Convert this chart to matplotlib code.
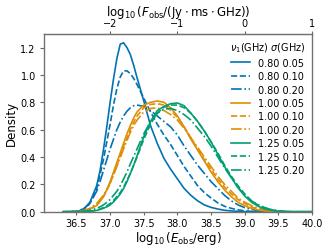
import matplotlib
matplotlib.use("Agg")
import matplotlib.pyplot as plt

# energy grid (log10 E_obs / erg), finer around the blue peaks
e_grid = [36.3, 36.4, 36.5, 36.6, 36.7, 36.8,
          36.85, 36.9, 36.95, 37.0, 37.05, 37.1, 37.15, 37.2, 37.25, 37.3, 37.35, 37.4,
          37.5, 37.6, 37.7, 37.8, 37.9, 38.0, 38.1, 38.2, 38.3, 38.4,
          38.5, 38.6, 38.7, 38.8, 38.9, 39.0, 39.1, 39.2, 39.3, 39.4,
          39.5, 39.6, 39.7, 39.8, 39.9, 40.0]

nu1 = ["0.80", "1.00", "1.25"]
sigma = ["0.05", "0.10", "0.20"]

# density curves
b05 = [0, 0, .002, .015, .07, .19,
       .30, .45, .62, .80, .97, 1.12, 1.225, 1.235, 1.20, 1.15, 1.07, .98,
       .81, .63, .50, .39, .31, .24, .17, .12, .08, .05,
       .032, .02, .011, .006, .003, .001, 0, 0, 0, 0,
       0, 0, 0, 0, 0, 0]
b10 = [0, 0, .003, .015, .06, .17,
       .27, .38, .51, .64, .78, .90, .985, 1.03, 1.03, 1.01, .975, .93,
       .83, .73, .64, .56, .49, .41, .33, .26, .19, .14,
       .10, .065, .04, .025, .014, .007, .003, .001, 0, 0,
       0, 0, 0, 0, 0, 0]
b20 = [0, .001, .005, .02, .06, .15,
       .22, .30, .38, .46, .53, .60, .655, .70, .735, .76, .775, .78,
       .77, .74, .70, .66, .62, .56, .48, .41, .34, .28,
       .22, .17, .12, .08, .05, .03, .017, .008, .003, .001,
       0, 0, 0, 0, 0, 0]
o05 = [0, 0, .001, .005, .02, .045,
       .075, .11, .16, .22, .29, .36, .43, .50, .57, .63, .685, .73,
       .78, .80, .81, .80, .76, .70, .62, .53, .45, .37,
       .29, .22, .16, .11, .07, .043, .025, .013, .006, .002,
       .001, 0, 0, 0, 0, 0]
o10 = [0, 0, .002, .006, .02, .05,
       .08, .11, .155, .21, .27, .34, .41, .48, .54, .60, .655, .70,
       .76, .785, .79, .78, .74, .69, .62, .54, .46, .38,
       .31, .24, .18, .13, .09, .06, .035, .02, .01, .004,
       .001, 0, 0, 0, 0, 0]
o20 = [0, .001, .003, .008, .025, .06,
       .09, .12, .16, .21, .27, .33, .395, .46, .52, .58, .63, .67,
       .73, .755, .76, .74, .71, .67, .61, .54, .47, .40,
       .33, .26, .20, .15, .10, .07, .045, .027, .015, .007,
       .003, .001, 0, 0, 0, 0]
g05 = [0, 0, 0, .001, .003, .01,
       .017, .025, .036, .05, .072, .10, .13, .17, .22, .28, .34, .41,
       .55, .66, .74, .77, .79, .795, .775, .72, .66, .59,
       .51, .42, .33, .25, .175, .115, .07, .04, .02, .01,
       .004, .001, 0, 0, 0, 0]
g10 = [0, 0, .001, .002, .004, .012,
       .02, .03, .043, .06, .083, .11, .14, .18, .23, .28, .34, .40,
       .53, .64, .72, .765, .78, .78, .76, .72, .66, .59,
       .51, .43, .34, .26, .19, .13, .08, .048, .027, .014,
       .006, .002, 0, 0, 0, 0]
g20 = [0, 0, .001, .003, .01, .025,
       .036, .05, .068, .09, .12, .15, .19, .24, .29, .35, .405, .46,
       .57, .66, .72, .75, .755, .74, .71, .67, .61, .55,
       .48, .40, .32, .25, .18, .12, .08, .05, .03, .015,
       .006, .002, 0, 0, 0, 0]

curves = [[b05, b10, b20], [o05, o10, o20], [g05, g10, g20]]
colors = ["#0173b2", "#de8f05", "#029e73"]
styles = ["-", "--", "-."]
offset = 39.0  # log10 E -> log10 F shift for the top axis

fig = plt.figure(figsize=(3.32, 2.53), dpi=100)
ax = fig.add_axes([0.133, 0.159, 0.807, 0.703])

for i, nu in enumerate(nu1):
    for j, s in enumerate(sigma):
        ax.plot(e_grid, curves[i][j], color=colors[i], ls=styles[j], lw=1.2,
                label=f"{nu} {s}")

ax.set_xlim(36.02, 40.0)
ax.set_ylim(0, 1.30)
ax.set_xticks([36.5, 37.0, 37.5, 38.0, 38.5, 39.0, 39.5, 40.0])
ax.set_yticks([0.0, 0.2, 0.4, 0.6, 0.8, 1.0, 1.2])
ax.tick_params(axis="x", labelsize=7, length=2.5, width=0.8, color="0.4", pad=2)
ax.tick_params(axis="y", labelsize=7, length=3, width=0.8, color="0.4", pad=3)
ax.set_xlabel(r"$\log_{10}(E_{\rm obs}/{\rm erg})$", fontsize=8.5, labelpad=1)
ax.set_ylabel("Density", fontsize=8.5, labelpad=2)
for sp in ax.spines.values():
    sp.set_color("0.45")
    sp.set_linewidth(1.0)

top = ax.secondary_xaxis("top", functions=(lambda x: x - offset, lambda x: x + offset))
top.set_xticks([-2, -1, 0, 1])
top.tick_params(labelsize=7, length=2.5, width=0.8, color="0.4", pad=1.5)
top.spines["top"].set_color("0.45")
top.set_xlabel(r"$\log_{10}(F_{\rm obs}/({\rm Jy}\cdot{\rm ms}\cdot{\rm GHz}))$",
               fontsize=8.5, labelpad=2.5)

ax.legend(title=r"$\nu_1$(GHz) $\sigma$(GHz)", loc="upper right", frameon=False,
          fontsize=7, title_fontsize=7, handlelength=2.0, labelspacing=0.35,
          handletextpad=0.8, borderaxespad=0.3)

fig.savefig("out.png", dpi=100)
